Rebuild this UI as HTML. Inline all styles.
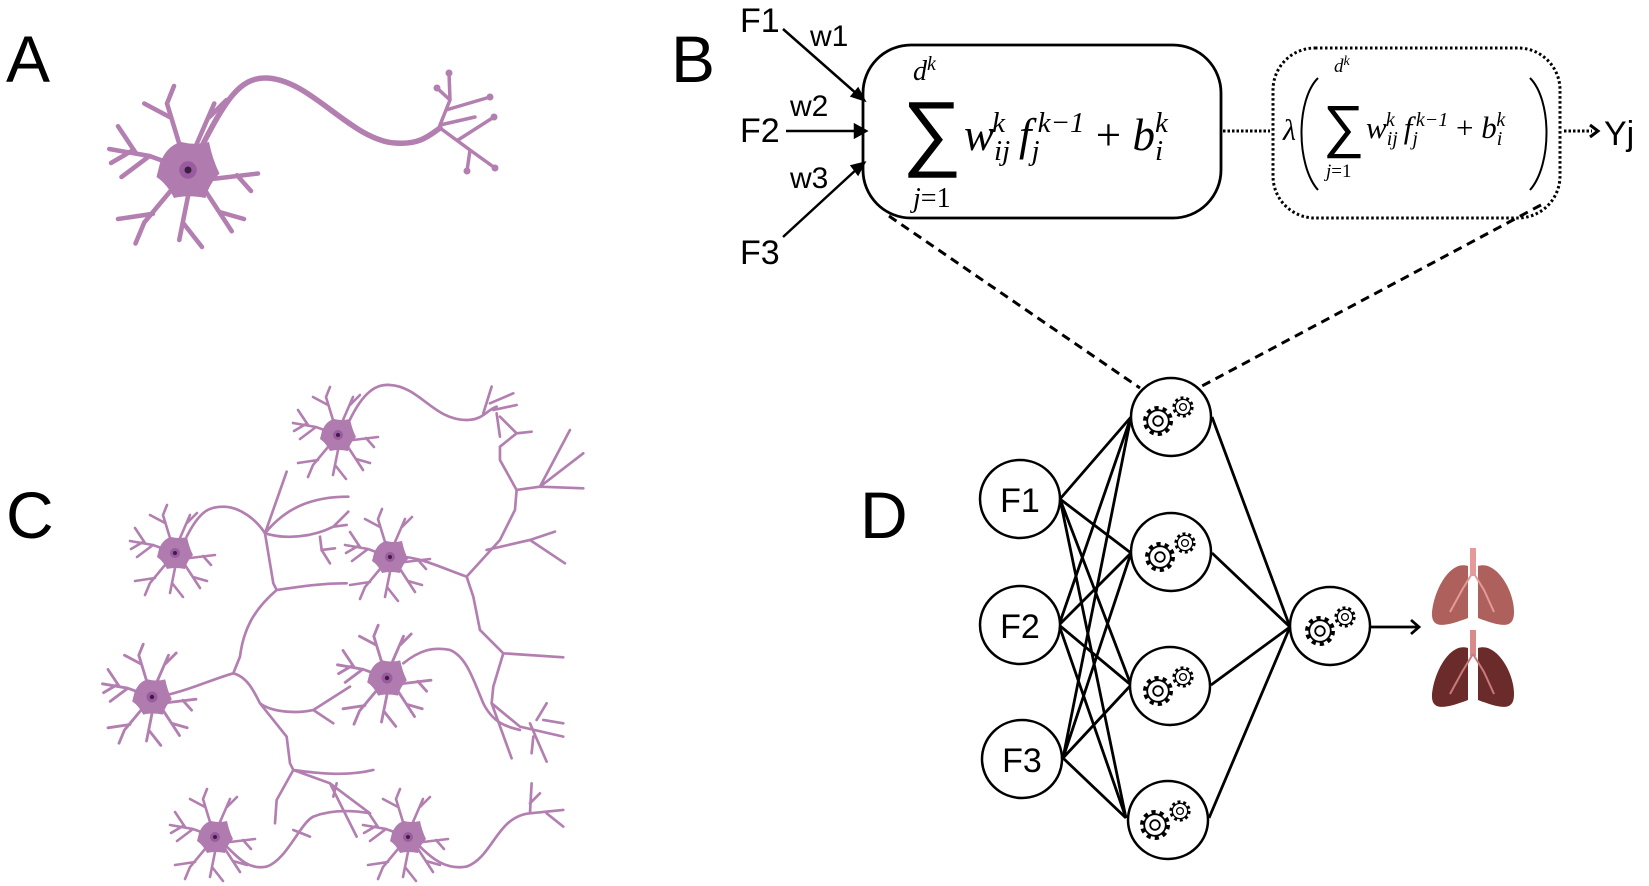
<!DOCTYPE html>
<html><head><meta charset="utf-8"><style>
html,body{margin:0;padding:0;background:#fff;}
svg{display:block;}
text{font-family:"Liberation Sans",sans-serif;}
.m{font-family:"Liberation Serif",serif;font-style:italic;}
</style></head><body>
<svg width="1649" height="886" viewBox="0 0 1649 886" xmlns="http://www.w3.org/2000/svg">
<defs>
<g id="nrn">
 <g stroke="#b27fb0" stroke-width="2.6" fill="none" stroke-linecap="round">
  <path d="M0,0 L-22,-8 L-45,-12 M-30,-10 L-40,-25 M-22,-8 L-38,4 M-5,-15 L-12,-38 L-8,-48 M-10,-30 L-25,-38 M5,-15 L15,-38 M-10,12 L-25,30 L-30,42 M-20,25 L-40,28 M0,15 L-5,40 M-3,30 L8,44 M10,12 L25,35 M18,24 L32,28 M15,5 L40,2 M28,3 L36,12 M-32,-11 L-44,-4 M12,-30 L22,-40"/>
 </g>
 <path d="M-16,-4 Q-12,-14 -4,-16 Q4,-14 12,-16 Q14,-6 18,2 Q12,8 10,16 Q0,14 -8,16 Q-12,8 -18,4 Z" fill="#b07bae"/>
 <circle r="12" fill="#b07bae"/>
 <circle r="5" fill="#9a5c9e"/>
 <circle r="2" fill="#3a1f45"/>
</g>
<g id="gear">
 <circle r="10" fill="none" stroke="#000" stroke-width="5" stroke-dasharray="3.2 3.1"/>
 <circle r="9" fill="#fff" stroke="#000" stroke-width="1.5"/>
 <circle r="4" fill="#fff" stroke="#000" stroke-width="1.5"/>
</g>
<g id="gears">
 <use href="#gear" transform="translate(-12,6) scale(1.2)"/>
 <use href="#gear" transform="translate(13,-8) scale(0.85)"/>
</g>
</defs>

<text x="6" y="82" font-size="66">A</text>
<text x="671" y="82" font-size="66">B</text>
<text x="6" y="538" font-size="66">C</text>
<text x="860" y="538" font-size="66">D</text>

<g stroke="#b27fb0" fill="none" stroke-linecap="round">
 <path d="M200,150 C225,100 240,78 265,78 C310,78 350,140 395,143 C420,145 430,135 440,128" stroke-width="5.5"/>
 <path d="M438,130 L450,100 L449,73 M450,100 L437,88 M446,110 L490,97 M440,125 L475,117 M440,128 L470,150 L467,171 M470,150 L495,168 M458,140 L494,117" stroke-width="3.5"/>
</g>
<g fill="#b27fb0"><circle cx="449" cy="73" r="3.5"/><circle cx="437" cy="88" r="3.5"/><circle cx="490" cy="97" r="3.5"/><circle cx="494" cy="117" r="3.5"/><circle cx="495" cy="168" r="3.5"/><circle cx="467" cy="171" r="3.5"/></g>
<use href="#nrn" transform="translate(188,170) scale(1.75)"/>

<g transform="translate(100,370) scale(0.3333)" stroke="#b27fb0" stroke-width="8" fill="none" stroke-linecap="round">
 <path d="M740,170 C780,80 820,40 870,45 C960,50 1000,150 1100,150 C1150,150 1160,120 1190,110 M1150,130 L1175,50 M1170,100 L1240,70 M1180,120 L1250,105 M1190,130 L1200,200 M1200,140 L1250,190 L1295,185 M1250,190 L1200,230 L1200,270 L1250,360 L1245,420 L1200,510 L1100,620"/>
 <path d="M1250,360 L1320,350 L1410,180 M1320,350 L1450,250 M1320,350 L1450,355 M1160,540 L1290,510 L1365,485 M1290,510 L1395,580"/>
 <path d="M260,500 C300,420 330,410 370,410 C420,410 470,450 495,490 M495,490 L560,305 M495,490 C560,410 640,380 745,380 M495,490 C560,510 640,500 700,470 L745,425 M700,470 L740,465 M660,500 L665,540 L705,535 M665,540 L690,580"/>
 <path d="M495,490 L520,640 L530,660 C600,650 660,640 740,640 M530,660 C460,720 430,780 420,860 L400,910"/>
 <path d="M200,975 C270,960 330,930 400,910 C440,920 460,960 480,1000 C520,1030 600,1030 640,1020 L700,1060 M640,1020 L750,950 M480,1000 L560,1100 L570,1180 L580,1200 C650,1210 740,1220 820,1200 M580,1200 L530,1290 L525,1360 M580,1200 L690,1240 L770,1400 M690,1240 L810,1330 M700,1280 L710,1240"/>
 <path d="M900,560 C960,560 1040,600 1100,620 L1120,680 L1140,780 L1210,850 L1390,862 M1210,850 L1180,950 L1175,1000 L1235,1165 M1175,1000 L1260,1070 L1390,1100 M1290,1060 L1340,1175 M1310,1050 L1340,1000 M1330,1050 L1390,1060 M1300,1100 L1295,1150"/>
 <path d="M910,880 C960,840 1000,830 1050,840 C1100,860 1120,930 1150,1000 C1180,1060 1220,1070 1260,1080"/>
 <path d="M380,1430 C420,1470 450,1500 500,1490 C560,1470 600,1360 640,1340 C690,1320 750,1320 810,1330 M580,1380 L630,1400"/>
 <path d="M960,1430 C1000,1470 1040,1500 1100,1490 C1180,1460 1190,1340 1290,1330 L1390,1320 M1290,1330 L1295,1240 M1290,1300 L1320,1270 M1340,1330 L1390,1370"/>
</g>
<use href="#nrn" transform="translate(338,435)"/>
<use href="#nrn" transform="translate(175,553)"/>
<use href="#nrn" transform="translate(390,557)"/>
<use href="#nrn" transform="translate(152,697) scale(1.1)"/>
<use href="#nrn" transform="translate(387,678) scale(1.1)"/>
<use href="#nrn" transform="translate(215,837)"/>
<use href="#nrn" transform="translate(408,837)"/>

<text x="740" y="32" font-size="34">F1</text>
<text x="810" y="46" font-size="30">w1</text>
<text x="740" y="142" font-size="34">F2</text>
<text x="790" y="116" font-size="30">w2</text>
<text x="790" y="188" font-size="30">w3</text>
<text x="740" y="264" font-size="34">F3</text>
<g stroke="#000" stroke-width="2.5" fill="#000">
 <line x1="783" y1="29" x2="858" y2="95"/>
 <line x1="786" y1="131" x2="856" y2="131"/>
 <line x1="783" y1="237" x2="858" y2="168"/>
 <path d="M864,100 L852,96 L858,89 Z"/>
 <path d="M866,131 L855,125 L855,137 Z"/>
 <path d="M864,163 L858,174 L852,166 Z"/>
</g>
<rect x="863" y="45" width="358" height="173" rx="48" fill="none" stroke="#000" stroke-width="2.8"/>
<rect x="1273" y="48" width="287" height="170" rx="42" fill="none" stroke="#000" stroke-width="3" stroke-dasharray="2.5 2.5"/>
<line x1="1223" y1="131" x2="1270" y2="131" stroke="#000" stroke-width="3" stroke-dasharray="2.5 2"/>
<line x1="1564" y1="131" x2="1592" y2="131" stroke="#000" stroke-width="3" stroke-dasharray="2.5 2"/>
<path d="M1590,125 L1598,131 L1590,137" fill="none" stroke="#000" stroke-width="3"/>
<text x="1604" y="145" font-size="34">Yj</text>

<text class="m" x="913" y="80" font-size="28">d<tspan dy="-10" font-size="20">k</tspan></text>
<text x="902" y="160" font-size="84" font-family="Liberation Serif,serif">∑</text>
<text class="m" x="913" y="207" font-size="28">j<tspan font-style="normal">=1</tspan></text>
<text class="m" x="964" y="150" font-size="45">w<tspan dy="10" font-size="29">ij</tspan><tspan dx="-18" dy="-28" font-size="29">k</tspan><tspan dx="14" dy="18" font-size="45">f</tspan><tspan dy="10" font-size="29">j</tspan><tspan dx="-2" dy="-28" font-size="29">k−1</tspan><tspan dy="18" font-size="45" font-style="normal"> + </tspan><tspan font-size="45">b</tspan><tspan dy="10" font-size="29">i</tspan><tspan dx="-8" dy="-28" font-size="29">k</tspan></text>

<text class="m" x="1283" y="140" font-size="30">λ</text>
<path d="M1318,78 C1296,100 1296,165 1318,190" fill="none" stroke="#000" stroke-width="2"/>
<path d="M1530,78 C1552,100 1552,165 1530,190" fill="none" stroke="#000" stroke-width="2"/>
<text class="m" x="1334" y="72" font-size="19">d<tspan dy="-7" font-size="14">k</tspan></text>
<text x="1323" y="146" font-size="58" font-family="Liberation Serif,serif">∑</text>
<text class="m" x="1326" y="177" font-size="19">j<tspan font-style="normal">=1</tspan></text>
<text class="m" x="1366" y="138" font-size="31">w<tspan dy="7" font-size="20">ij</tspan><tspan dx="-12" dy="-19" font-size="20">k</tspan><tspan dx="9" dy="12" font-size="31">f</tspan><tspan dy="7" font-size="20">j</tspan><tspan dx="-2" dy="-19" font-size="20">k−1</tspan><tspan dy="12" font-size="31" font-style="normal"> + </tspan><tspan font-size="31">b</tspan><tspan dy="7" font-size="20">i</tspan><tspan dx="-6" dy="-19" font-size="20">k</tspan></text>

<line x1="889" y1="216" x2="1140" y2="388" stroke="#000" stroke-width="3" stroke-dasharray="9 6"/>
<line x1="1541" y1="205" x2="1202" y2="386" stroke="#000" stroke-width="3" stroke-dasharray="9 6"/>

<g stroke="#000" stroke-width="2.8" fill="none">
 <path d="M1060,499 L1131,417 M1060,499 L1131,553 M1060,499 L1131,685 M1060,499 L1126,818"/>
 <path d="M1059,625 L1131,417 M1059,625 L1131,553 M1059,625 L1131,685 M1059,625 L1126,818"/>
 <path d="M1063,758 L1131,417 M1063,758 L1131,553 M1063,758 L1131,685 M1063,758 L1126,818"/>
 <path d="M1212,417 L1290,627 M1212,553 L1290,627 M1211,685 L1290,627 M1209,818 L1290,627"/>
 <line x1="1371" y1="627" x2="1418" y2="627"/>
 <path d="M1411,620 L1419,627 L1411,634"/>
</g>
<g fill="#fff" stroke="#000" stroke-width="2.5">
 <ellipse cx="1020" cy="499" rx="40" ry="39"/>
 <ellipse cx="1020" cy="625" rx="40" ry="39"/>
 <ellipse cx="1022" cy="759" rx="40" ry="39"/>
 <ellipse cx="1171" cy="417" rx="40" ry="39"/>
 <ellipse cx="1171" cy="552" rx="40" ry="39"/>
 <ellipse cx="1170" cy="686" rx="40" ry="39"/>
 <ellipse cx="1168" cy="820" rx="40" ry="39"/>
 <ellipse cx="1330" cy="626" rx="40" ry="39"/>
</g>
<text x="1020" y="512" font-size="34" text-anchor="middle">F1</text>
<text x="1020" y="638" font-size="34" text-anchor="middle">F2</text>
<text x="1022" y="772" font-size="34" text-anchor="middle">F3</text>
<use href="#gears" transform="translate(1170,415)"/>
<use href="#gears" transform="translate(1172,551)"/>
<use href="#gears" transform="translate(1170,685)"/>
<use href="#gears" transform="translate(1167,819)"/>
<use href="#gears" transform="translate(1332,625)"/>

<g>
 <rect x="1470" y="548" width="6" height="28" fill="#e39a98"/>
 <path d="M1468,566 C1450,560 1434,590 1432,612 C1431,628 1442,628 1468,618 Z" fill="#ad605c"/>
 <path d="M1478,566 C1496,560 1514,590 1514,612 C1514,628 1504,628 1478,618 Z" fill="#ad605c"/>
 <path d="M1473,572 L1462,590 L1450,612 M1473,572 L1484,590 L1494,612" stroke="#e39a98" stroke-width="2" fill="none"/>
 <rect x="1470" y="630" width="6" height="26" fill="#d88c8a"/>
 <path d="M1468,648 C1450,642 1434,672 1432,694 C1431,710 1442,710 1468,700 Z" fill="#6b2b2b"/>
 <path d="M1478,648 C1496,642 1514,672 1514,694 C1514,710 1504,710 1478,700 Z" fill="#6b2b2b"/>
 <path d="M1473,654 L1462,672 L1450,694 M1473,654 L1484,672 L1494,694" stroke="#c97a78" stroke-width="2" fill="none"/>
</g>
</svg>
</body></html>
